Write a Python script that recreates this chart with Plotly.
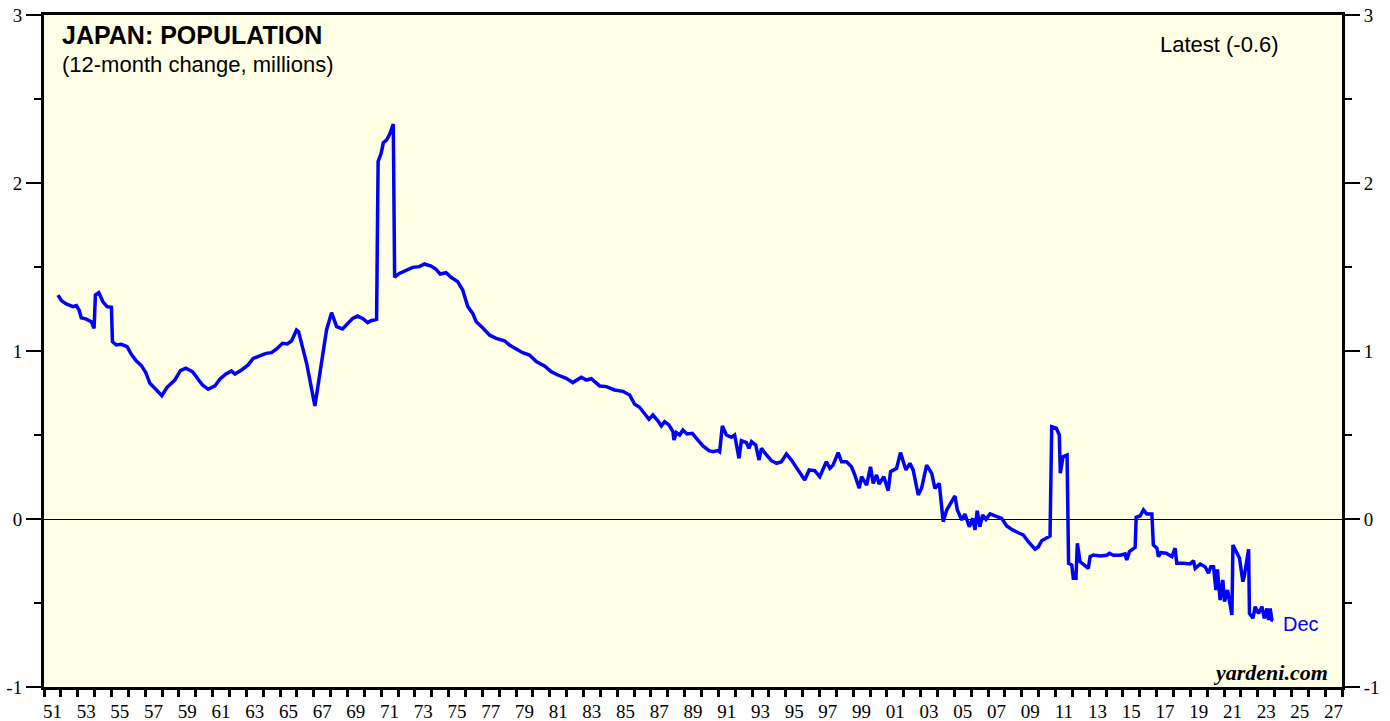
import plotly.graph_objects as go

# ---- data ----
years = [
    1951.83, 1952.03, 1952.32, 1952.72, 1952.92, 1953.08, 1953.21, 1953.51, 1953.81, 1953.97,
    1954.05, 1954.25, 1954.50, 1954.74, 1955.00, 1955.06, 1955.29, 1955.59, 1955.93, 1956.18,
    1956.48, 1956.78, 1957.04, 1957.28, 1957.63, 1957.99, 1958.30, 1958.76, 1959.09, 1959.41,
    1959.81, 1960.04, 1960.40, 1960.74, 1961.14, 1961.43, 1961.79, 1962.12, 1962.32, 1962.72,
    1963.11, 1963.41, 1963.71, 1964.17, 1964.50, 1964.80, 1965.15, 1965.43, 1965.69, 1965.98,
    1966.10, 1966.58, 1967.07, 1967.37, 1967.76, 1968.06, 1968.36, 1968.71, 1969.07, 1969.31,
    1969.60, 1969.90, 1970.20, 1970.40, 1970.73, 1970.82, 1971.00, 1971.13, 1971.33, 1971.53,
    1971.72, 1971.80, 1972.08, 1972.48, 1972.87, 1973.27, 1973.57, 1973.96, 1974.26, 1974.50,
    1974.85, 1975.15, 1975.54, 1975.84, 1976.14, 1976.43, 1976.64, 1976.99, 1977.43, 1977.82,
    1978.32, 1978.61, 1979.11, 1979.40, 1979.80, 1980.20, 1980.69, 1981.09, 1981.48, 1981.98,
    1982.37, 1982.87, 1983.17, 1983.47, 1983.96, 1984.36, 1984.85, 1985.34, 1985.74, 1986.04,
    1986.33, 1986.63, 1986.89, 1987.12, 1987.42, 1987.62, 1987.82, 1988.07, 1988.31, 1988.37,
    1988.51, 1988.71, 1988.90, 1989.14, 1989.46, 1989.79, 1990.09, 1990.45, 1990.69, 1990.98,
    1991.08, 1991.24, 1991.48, 1991.78, 1991.97, 1992.23, 1992.37, 1992.67, 1992.82, 1992.97,
    1993.22, 1993.42, 1993.56, 1993.86, 1994.15, 1994.45, 1994.75, 1995.04, 1995.34, 1995.73,
    1996.13, 1996.39, 1996.72, 1997.02, 1997.41, 1997.62, 1997.81, 1998.11, 1998.31, 1998.61,
    1998.90, 1999.10, 1999.36, 1999.50, 1999.80, 2000.03, 2000.19, 2000.39, 2000.54, 2000.82,
    2001.08, 2001.22, 2001.58, 2001.81, 2002.13, 2002.37, 2002.56, 2002.86, 2003.06, 2003.36,
    2003.66, 2003.85, 2004.11, 2004.34, 2004.55, 2004.84, 2005.04, 2005.18, 2005.44, 2005.63,
    2005.89, 2006.09, 2006.23, 2006.36, 2006.52, 2006.68, 2006.88, 2007.12, 2007.51, 2007.81,
    2008.11, 2008.46, 2008.86, 2009.09, 2009.39, 2009.79, 2009.99, 2010.19, 2010.68, 2010.78,
    2011.05, 2011.23, 2011.29, 2011.45, 2011.69, 2011.78, 2011.97, 2012.06, 2012.22, 2012.30,
    2012.46, 2012.66, 2012.95, 2013.06, 2013.25, 2013.65, 2014.05, 2014.20, 2014.44, 2014.84,
    2015.13, 2015.23, 2015.39, 2015.73, 2015.79, 2016.02, 2016.22, 2016.42, 2016.72, 2016.81,
    2017.02, 2017.11, 2017.25, 2017.57, 2017.91, 2018.10, 2018.20, 2018.60, 2018.99, 2019.19,
    2019.29, 2019.59, 2019.88, 2020.08, 2020.22, 2020.38, 2020.52, 2020.61, 2020.77, 2020.93,
    2021.03, 2021.21, 2021.47, 2021.53, 2021.73, 2021.92, 2022.12, 2022.20, 2022.46, 2022.51,
    2022.72, 2022.85, 2023.05, 2023.25, 2023.39, 2023.55, 2023.64, 2023.74, 2023.84, 2023.92,
]
values = [
    1.333, 1.300, 1.280, 1.264, 1.270, 1.244, 1.198, 1.190, 1.174, 1.135,
    1.333, 1.347, 1.293, 1.264, 1.260, 1.055, 1.036, 1.040, 1.026, 0.980,
    0.940, 0.913, 0.871, 0.808, 0.772, 0.734, 0.784, 0.827, 0.883, 0.897,
    0.877, 0.847, 0.798, 0.772, 0.792, 0.832, 0.863, 0.881, 0.863, 0.887,
    0.917, 0.956, 0.970, 0.986, 0.990, 1.012, 1.046, 1.042, 1.061, 1.125,
    1.115, 0.927, 0.673, 0.867, 1.125, 1.228, 1.145, 1.131, 1.169, 1.194,
    1.208, 1.194, 1.169, 1.180, 1.188, 2.127, 2.177, 2.240, 2.256, 2.296,
    2.351, 1.439, 1.462, 1.482, 1.498, 1.502, 1.518, 1.506, 1.486, 1.458,
    1.466, 1.439, 1.413, 1.363, 1.264, 1.224, 1.174, 1.141, 1.095, 1.075,
    1.061, 1.036, 1.010, 0.990, 0.976, 0.937, 0.911, 0.877, 0.857, 0.837,
    0.812, 0.843, 0.827, 0.835, 0.792, 0.788, 0.768, 0.760, 0.738, 0.683,
    0.665, 0.629, 0.593, 0.619, 0.585, 0.554, 0.579, 0.560, 0.520, 0.470,
    0.514, 0.500, 0.530, 0.506, 0.510, 0.470, 0.435, 0.407, 0.401, 0.407,
    0.400, 0.554, 0.500, 0.486, 0.500, 0.361, 0.466, 0.454, 0.421, 0.460,
    0.440, 0.351, 0.421, 0.381, 0.347, 0.331, 0.341, 0.387, 0.351, 0.292,
    0.232, 0.292, 0.288, 0.252, 0.341, 0.302, 0.321, 0.395, 0.341, 0.341,
    0.311, 0.262, 0.183, 0.252, 0.202, 0.311, 0.212, 0.262, 0.208, 0.252,
    0.169, 0.282, 0.302, 0.395, 0.292, 0.331, 0.292, 0.143, 0.183, 0.321,
    0.272, 0.183, 0.212, -0.016, 0.054, 0.103, 0.137, 0.054, -0.006, 0.030,
    -0.046, 0.004, -0.065, 0.049, -0.046, 0.024, -0.002, 0.030, 0.018, 0.004,
    -0.042, -0.065, -0.085, -0.095, -0.135, -0.180, -0.165, -0.129, -0.101, 0.549,
    0.540, 0.500, 0.272, 0.371, 0.381, -0.264, -0.274, -0.353, -0.353, -0.145,
    -0.254, -0.268, -0.294, -0.224, -0.214, -0.220, -0.216, -0.204, -0.216, -0.216,
    -0.208, -0.244, -0.194, -0.169, 0.010, 0.018, 0.054, 0.030, 0.030, -0.155,
    -0.174, -0.224, -0.200, -0.204, -0.224, -0.174, -0.264, -0.264, -0.268, -0.248,
    -0.294, -0.268, -0.284, -0.323, -0.284, -0.284, -0.423, -0.300, -0.482, -0.363,
    -0.492, -0.423, -0.571, -0.155, -0.194, -0.234, -0.373, -0.343, -0.180, -0.562,
    -0.591, -0.522, -0.562, -0.522, -0.591, -0.532, -0.601, -0.532, -0.601, -0.605,
]

x_tick_years = list(range(1951, 2029))
label_years = list(range(1951, 2028, 2))
label_pos = [yr + 0.5 for yr in label_years]
label_text = [f"{yr % 100:02d}" for yr in label_years]
y_ticks = [-1, 0, 1, 2, 3]
y_tick_text = ["-1", "0", "1", "2", "3"]
y_minor = [-0.5, 0.5, 1.5, 2.5]

title_text = "JAPAN: POPULATION"
subtitle_text = "(12-month change, millions)"
latest_text = "Latest (-0.6)"
last_label = "Dec"
source_text = "yardeni.com"

serif = "Liberation Serif, Times New Roman, serif"
sans = "Liberation Sans, Arial, sans-serif"

fig = go.Figure()
fig.add_trace(go.Scatter(
    x=years, y=values, mode="lines",
    line=dict(color="#0000FF", width=3.5),
    hoverinfo="skip", showlegend=False,
))
# invisible trace so the right-hand axis is drawn
fig.add_trace(go.Scatter(
    x=[years[-1]], y=[values[-1]], yaxis="y2", mode="markers",
    marker=dict(opacity=0), hoverinfo="skip", showlegend=False,
))

yaxis_common = dict(
    range=[-1, 3], tickmode="array", tickvals=y_ticks, ticktext=y_tick_text,
    ticks="outside", ticklen=15, tickwidth=1.5, tickcolor="black",
    minor=dict(tickmode="array", tickvals=y_minor, ticks="outside",
               ticklen=7, tickwidth=1.5, tickcolor="black"),
    showgrid=False, automargin=False, ticklabeloverflow="allow",
    tickfont=dict(family=serif, size=19, color="black"),
)

fig.update_layout(
    width=1390, height=721,
    margin=dict(l=44, r=48, t=15, b=34),
    paper_bgcolor="white", plot_bgcolor="#FFFFE5",
    xaxis=dict(
        range=[1951, 2028], tickmode="array", tickvals=label_pos, ticktext=label_text,
        ticks="outside", ticklen=5, tickcolor="rgba(0,0,0,0)",
        minor=dict(tickmode="array", tickvals=x_tick_years, ticks="outside",
                   ticklen=7, tickwidth=2.5, tickcolor="black"),
        showgrid=False, zeroline=False, automargin=False, ticklabeloverflow="allow",
        showline=True, linecolor="black", linewidth=3, mirror=True,
        tickfont=dict(family=serif, size=19, color="black"),
    ),
    yaxis=dict(
        **yaxis_common,
        zeroline=True, zerolinecolor="black", zerolinewidth=1,
        showline=True, linecolor="black", linewidth=3, mirror=True,
    ),
    yaxis2=dict(
        **yaxis_common,
        overlaying="y", side="right", zeroline=False,
        showline=True, linecolor="black", linewidth=3,
    ),
    annotations=[
        dict(text=f"<b>{title_text}</b>", xref="paper", yref="paper", x=0.0123, y=0.970,
             xanchor="left", yanchor="middle", showarrow=False,
             font=dict(family=sans, size=25, color="black")),
        dict(text=subtitle_text, xref="paper", yref="paper", x=0.0123, y=0.9256,
             xanchor="left", yanchor="middle", showarrow=False,
             font=dict(family=sans, size=22, color="black")),
        dict(text=latest_text, xref="paper", yref="paper", x=0.953, y=0.9554,
             xanchor="right", yanchor="middle", showarrow=False,
             font=dict(family=sans, size=22, color="black")),
        dict(text=f"<b><i>{source_text}</i></b>", xref="paper", yref="paper", x=0.9908, y=0.0223,
             xanchor="right", yanchor="middle", showarrow=False,
             font=dict(family=serif, size=22, color="black")),
        dict(text=last_label, x=years[-1] + 0.45, y=values[-1] - 0.02,
             xanchor="left", yanchor="middle", showarrow=False,
             font=dict(family=sans, size=20, color="#0000FF")),
    ],
)

# remove the default 8px page margin so the figure fills the window exactly
fig.write_html("out.html", config={"displayModeBar": False},
               post_script="document.body.style.margin='0px';")
